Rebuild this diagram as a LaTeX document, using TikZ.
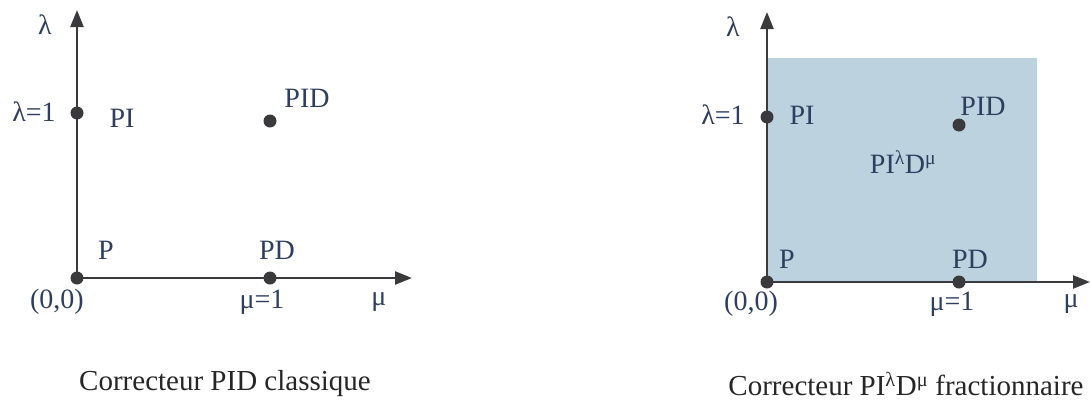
\documentclass[tikz,border=0pt]{standalone}
\usepackage{fontspec}
\setmainfont{Liberation Serif}
\usetikzlibrary{arrows.meta}
\definecolor{lbl}{HTML}{2E3F5E}
\definecolor{axis}{HTML}{3A3A3C}
\definecolor{bgfill}{HTML}{BCD3DF}
\begin{document}
\begin{tikzpicture}[x=1pt,y=-1pt,
  lab/.style={text=lbl,font=\fontsize{28}{30}\selectfont,inner sep=0pt},
  captext/.style={text=black!85,font=\fontsize{29}{31}\selectfont,inner sep=0pt},
  dot/.style={circle,fill=axis,minimum size=13pt,inner sep=0pt},
  ax/.style={draw=axis,line width=2.4pt,-{Triangle[width=13pt,length=17pt]}}]
\useasboundingbox (0,0) rectangle (1090,402);
% ---------- left diagram ----------
\node[dot] (o1) at (77,278) {};
\coordinate (y1) at (77,10);
\coordinate (x1) at (412,278);
\draw[ax] (o1.center) -- (y1);
\draw[ax] (o1.center) -- (x1);
\node[dot] (pi1) at (77,113) {};
\node[dot] (pid1) at (270,121) {};
\node[dot] (pd1) at (270,278) {};
\node[lab] (lam1) at (45,25) {λ};
\node[lab] (lam1v) at (34,112) {λ=1};
\node[lab] (pit1) at (122,118) {PI};
\node[lab] (pidt1) at (307,98) {PID};
\node[lab] (pt1) at (106,250) {P};
\node[lab] (pdt1) at (277,250) {PD};
\node[lab] (zero1) at (57,302) {(0,0)};
\node[lab] (mu1v) at (262,302) {μ=1};
\node[lab] (mu1) at (379,302) {μ};
\node[captext] (cap1) at (225,384) {Correcteur PID classique};
% ---------- right diagram ----------
\fill[bgfill] (767,58) rectangle (1037,282);
\node[dot] (o2) at (767,282) {};
\coordinate (y2) at (767,12);
\coordinate (x2) at (1090,282);
\draw[ax] (o2.center) -- (y2);
\draw[ax] (o2.center) -- (x2);
\node[dot] (pi2) at (767,117) {};
\node[dot] (pid2) at (959,125) {};
\node[dot] (pd2) at (959,282) {};
\node[lab] (lam2) at (733,27) {λ};
\node[lab] (lam2v) at (723,115) {λ=1};
\node[lab] (pit2) at (802,115) {PI};
\node[lab] (pidt2) at (983,106) {PID};
\node[lab] (frac2) at (903,162) {PI\textsuperscript{λ}D\textsuperscript{μ}};
\node[lab] (pt2) at (787,259) {P};
\node[lab] (pdt2) at (970,259) {PD};
\node[lab] (zero2) at (751,304) {(0,0)};
\node[lab] (mu2v) at (952,304) {μ=1};
\node[lab] (mu2) at (1071,304) {μ};
\node[captext] (cap2) at (906,384) {Correcteur PI\textsuperscript{λ}D\textsuperscript{μ} fractionnaire};
\end{tikzpicture}
\end{document}
